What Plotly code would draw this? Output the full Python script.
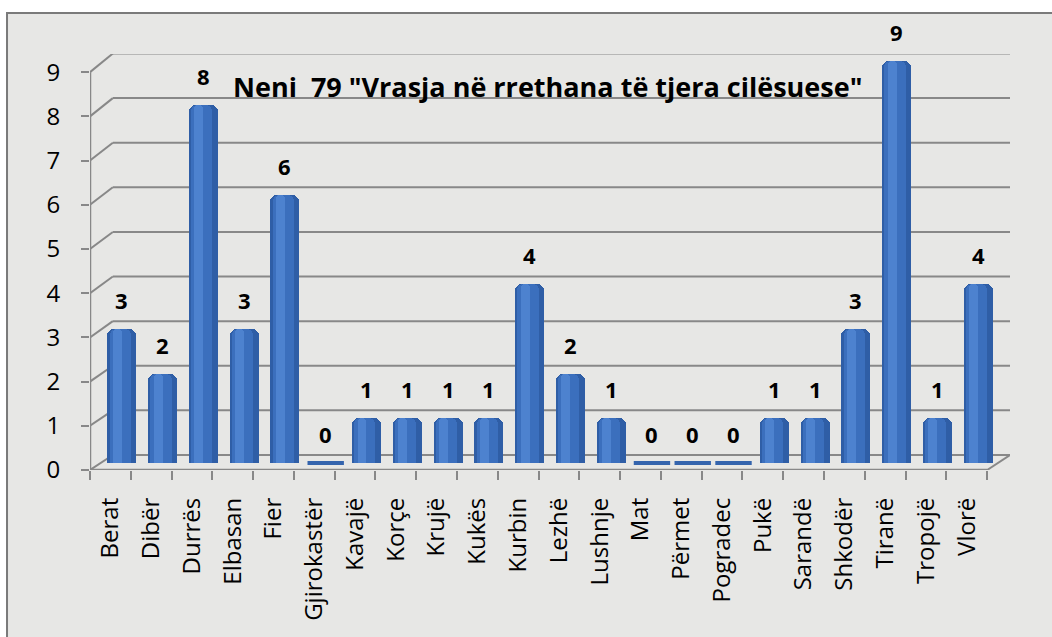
import plotly.graph_objects as go

categories = ["Berat", "Dibër", "Durrës", "Elbasan", "Fier", "Gjirokastër", "Kavajë", "Korçe",
              "Krujë", "Kukës", "Kurbin", "Lezhë", "Lushnje", "Mat", "Përmet", "Pogradec",
              "Pukë", "Sarandë", "Shkodër", "Tiranë", "Tropojë", "Vlorë"]
values = [3, 2, 8, 3, 6, 0, 1, 1, 1, 1, 4, 2, 1, 0, 0, 0, 1, 1, 3, 9, 1, 4]
y_ticks = list(range(0, 10))
title_text = 'Neni\u00a0 79 "Vrasja në rrethana të tjera cilësuese"'

FONT = "Open Sans"
n = len(categories)
xs = list(range(n))

# pseudo-3D geometry (in data units)
DX = 0.28            # horizontal depth offset
F_DY, F_S = -0.157, 0.989   # front plane
B_DY, B_S = 0.179, 0.998    # back wall
Y0, Y1 = -0.157, 9.150
X0, X1 = -0.5 - DX, n - 0.5 + DX
GRID = "#888888"

fig = go.Figure()

# cylinder-like bars: dark body + mid + highlight
fig.add_trace(go.Bar(x=xs, y=values, width=0.71, marker=dict(color="#2f5ea6", cornerradius=7, line_width=0),
                     hoverinfo="skip"))
fig.add_trace(go.Bar(x=xs, y=values, width=0.52, offset=-0.30, marker=dict(color="#3b6fbd", cornerradius=6, line_width=0),
                     hoverinfo="skip"))
fig.add_trace(go.Bar(x=xs, y=values, width=0.22, offset=-0.22, marker=dict(color="#4d82cf", cornerradius=4, line_width=0),
                     hoverinfo="skip"))

# zero-value flat discs
zx = [x for x, v in zip(xs, values) if v == 0]
zy = [v for v in values if v == 0]
fig.add_trace(go.Scatter(x=zx, y=zy, mode="markers",
                         marker=dict(symbol="line-ew", size=26, line=dict(width=4, color="#3464ad")),
                         hoverinfo="skip"))

# dummy trace for secondary axes
fig.add_trace(go.Scatter(x=[0], y=[0], xaxis="x2", yaxis="y2", mode="markers",
                         marker=dict(opacity=0), hoverinfo="skip"))

# data labels (annotations anchored at bar tops)
annotations = [dict(x=x, y=v, xref="x", yref="y", text="<b>" + str(v) + "</b>", showarrow=False,
                    xanchor="center", yanchor="bottom", yshift=12,
                    font=dict(family=FONT, size=22, color="#000000"))
               for x, v in zip(xs, values)]
annotations.append(dict(text="<b>" + title_text + "</b>", xref="paper", yref="paper",
                        x=0.497, y=0.923, xanchor="center", yanchor="middle", showarrow=False,
                        font=dict(family=FONT, size=27, color="#000000")))

shapes = []
# background frame
shapes.append(dict(type="rect", xref="paper", yref="paper", x0=-0.0902, x1=1.2, y0=-0.6, y1=1.0986,
                   fillcolor="#e7e7e5", line=dict(color="#7a7a7a", width=2), layer="below"))
# back gridlines + connectors
for k in y_ticks:
    yb = B_DY + B_S * k
    yf = F_DY + F_S * k
    shapes.append(dict(type="line", xref="x", yref="y", x0=-0.5 + DX, x1=n - 0.5 + DX, y0=yb, y1=yb,
                       line=dict(color=GRID, width=2), layer="below"))
    shapes.append(dict(type="line", xref="x", yref="y", x0=-0.5 - DX, x1=-0.5 + DX, y0=yf, y1=yb,
                       line=dict(color=GRID, width=2), layer="below"))
# floor front edge and right diagonal
shapes.append(dict(type="line", xref="x", yref="y", x0=-0.5 - DX, x1=n - 0.5 - DX, y0=F_DY, y1=F_DY,
                   line=dict(color=GRID, width=2.5), layer="below"))
shapes.append(dict(type="line", xref="x", yref="y", x0=n - 0.5 - DX, x1=n - 0.5 + DX, y0=F_DY, y1=B_DY,
                   line=dict(color=GRID, width=2), layer="below"))
# front vertical axis line
shapes.append(dict(type="line", xref="x", yref="y", x0=-0.5 - DX, x1=-0.5 - DX, y0=F_DY, y1=F_DY + F_S * max(y_ticks),
                   line=dict(color=GRID, width=2.5), layer="below"))

fig.update_layout(
    width=1052, height=637,
    margin=dict(l=90, r=42, t=54, b=167),
    paper_bgcolor="#ffffff", plot_bgcolor="rgba(0,0,0,0)",
    barmode="overlay", bargap=0, showlegend=False,
    shapes=shapes, annotations=annotations,
    font=dict(family=FONT, color="#000000"),
    xaxis=dict(range=[X0, X1], tickvals=[x - DX for x in xs], ticktext=categories, tickangle=-90,
               ticks="", showgrid=False, zeroline=False, showline=False,
               tickfont=dict(family=FONT, size=24, color="#000000"), ticklabelstandoff=22),
    yaxis=dict(range=[Y0, Y1], showgrid=False, zeroline=False, showline=False, showticklabels=False, ticks=""),
    xaxis2=dict(overlaying="x", side="bottom", range=[X0, X1],
                tickvals=[i - 0.5 - DX for i in range(n + 1)], showticklabels=False,
                ticks="outside", ticklen=9, tickwidth=2, tickcolor=GRID,
                showgrid=False, zeroline=False, showline=False),
    yaxis2=dict(overlaying="y", side="left", range=[(Y0 - F_DY) / F_S, (Y1 - F_DY) / F_S],
                tickvals=y_ticks, ticktext=[str(t) for t in y_ticks],
                ticks="outside", ticklen=8, tickwidth=2, tickcolor=GRID,
                tickfont=dict(family=FONT, size=24, color="#000000"), ticklabelstandoff=16,
                showgrid=False, zeroline=False, showline=False),
)

fig.write_html("out.html", config={"displayModeBar": False},
               post_script="document.body.style.margin='0';document.body.style.padding='0';")
